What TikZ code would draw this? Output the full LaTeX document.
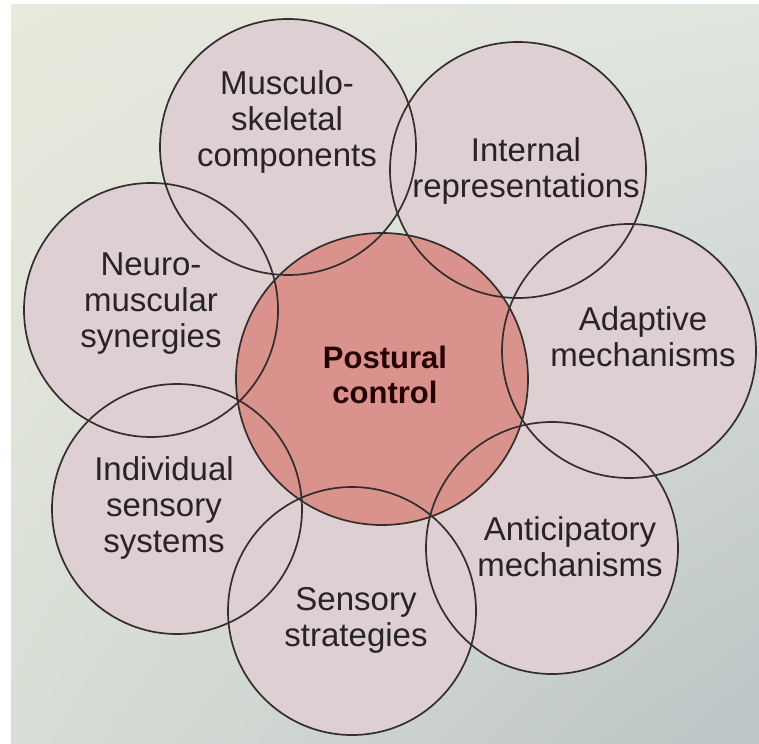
\documentclass[tikz,border=0pt]{standalone}
\usepackage{fontspec}
\setmainfont{Liberation Sans}
\usetikzlibrary{shadings}
\newcommand{\mlines}[1]{\begin{tabular}[t]{@{}c@{}}#1\end{tabular}}
\definecolor{bgA}{HTML}{E7EADC}
\definecolor{bgB}{HTML}{E0E5DF}
\definecolor{bgC}{HTML}{D9DED6}
\definecolor{bgD}{HTML}{BCC5C6}
\definecolor{outerfill}{HTML}{DDCFD2}
\definecolor{centerfill}{HTML}{DA928D}
\definecolor{ring}{HTML}{332D2D}
\definecolor{txt}{HTML}{282424}
\begin{document}
\begin{tikzpicture}[x=1pt,y=-1pt,
  disk/.style={circle, inner sep=0pt, fill=outerfill},
  ctrdisk/.style={circle, inner sep=0pt, fill=centerfill},
  outline/.style={draw=ring, line width=1.7pt},
  lbl/.style={anchor=base, inner sep=0pt, text=txt, font=\fontsize{33}{36}\selectfont},
  clbl/.style={anchor=base, inner sep=0pt, text=black!85!red, font=\bfseries\fontsize{31}{35}\selectfont}]
\useasboundingbox (0,0) rectangle (759,743);
\fill[white] (0,0) rectangle (759,743);
\shade[upper left=bgA, upper right=bgB, lower left=bgC, lower right=bgD] (11,5) rectangle (759,743);
% fills
\node[disk, minimum size=256pt] (musculo) at (288,147) {};
\node[disk, minimum size=256pt] (internal) at (518,170) {};
\node[disk, minimum size=254pt] (adaptive) at (629,351) {};
\node[disk, minimum size=252pt] (anticip) at (552,548) {};
\node[disk, minimum size=248pt] (sensstrat) at (352,611) {};
\node[disk, minimum size=250pt] (indiv) at (177,509) {};
\node[disk, minimum size=254pt] (neuro) at (151,310) {};
\node[ctrdisk, minimum size=292pt] (postural) at (382,379) {};
% outlines
\draw[outline] (musculo.center) circle[radius=128pt];
\draw[outline] (internal.center) circle[radius=128pt];
\draw[outline] (adaptive.center) circle[radius=127pt];
\draw[outline] (anticip.center) circle[radius=126pt];
\draw[outline] (sensstrat.center) circle[radius=124pt];
\draw[outline] (indiv.center) circle[radius=125pt];
\draw[outline] (neuro.center) circle[radius=127pt];
\draw[outline] (postural.center) circle[radius=146pt];
% labels
\node[lbl] (tmusculo) at (287,95) {\mlines{Musculo-\\skeletal\\components}};
\node[lbl] (tinternal) at (526,162) {\mlines{Internal\\representations}};
\node[lbl] (tadaptive) at (643,330) {\mlines{Adaptive\\mechanisms}};
\node[lbl] (tanticip) at (570,540) {\mlines{Anticipatory\\mechanisms}};
\node[lbl] (tsens) at (356,610) {\mlines{Sensory\\strategies}};
\node[lbl] (tindiv) at (164,480) {\mlines{Individual\\sensory\\systems}};
\node[lbl] (tneuro) at (151,275) {\mlines{Neuro-\\muscular\\synergies}};
\node[clbl] (tpost) at (385,368) {\mlines{Postural\\control}};
\end{tikzpicture}
\end{document}
